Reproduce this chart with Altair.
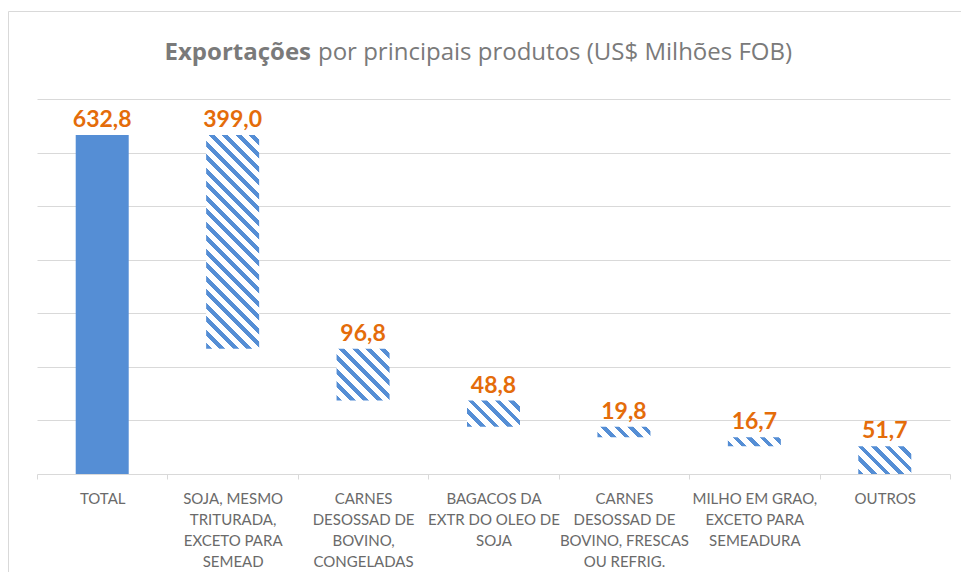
import altair as alt
import pandas as pd

# ---------------- data ----------------
label_lines = [
    ["TOTAL"],
    ["SOJA, MESMO", "TRITURADA,", "EXCETO PARA", "SEMEAD"],
    ["CARNES", "DESOSSAD DE", "BOVINO,", "CONGELADAS"],
    ["BAGACOS DA", "EXTR DO OLEO DE", "SOJA"],
    ["CARNES", "DESOSSAD DE", "BOVINO, FRESCAS", "OU REFRIG."],
    ["MILHO EM GRAO,", "EXCETO PARA", "SEMEADURA"],
    ["OUTROS"],
]
values = [632.8, 399.0, 96.8, 48.8, 19.8, 16.7, 51.7]
grid_values = [100, 200, 300, 400, 500, 600, 700]
title_bold = "Exportações"
title_rest = "por principais produtos (US$ Milhões FOB)"

# ---------------- styling ----------------
W, H, YMAX = 913, 375, 700
BAR_W = 53
BLUE = "#558ED5"
ORANGE = "#E46C0A"
GRID = "#d9d9d9"
LABEL = "#6a6a6a"
TITLE = "#7a7a7a"
FONT = "Lato"
TFONT = "Open Sans"

categories = ["|".join(l) for l in label_lines]
rows = []
level = 0.0
for i, (c, v) in enumerate(zip(categories, values)):
    if i == 0:
        lo, hi = 0.0, v
        level = v
    else:
        hi = level
        lo = max(level - v, 0.0)
        level = lo
    rows.append({"cat": c, "lo": lo, "hi": hi, "value": v,
                 "txt": f"{v:.1f}".replace(".", ","), "idx": i})
df = pd.DataFrame(rows)


def hatch(h, w=BAR_W, period=13.5, frac=0.42):
    """Diagonal '\\' stripes as a hard-stop linear gradient (constant pixel period)."""
    L = w + h
    k = (w + h) / (w * w + h * h)
    n = L / period
    stops = []
    i = 0
    while i / n < 1:
        a, b, c = i / n, (i + frac) / n, (i + 1) / n
        stops.append(alt.GradientStop(color=BLUE, offset=a))
        stops.append(alt.GradientStop(color=BLUE, offset=min(b, 1)))
        if b < 1:
            stops.append(alt.GradientStop(color="white", offset=b))
            stops.append(alt.GradientStop(color="white", offset=min(c, 1)))
        i += 1
    return alt.LinearGradient(gradient="linear", stops=stops,
                              x1=0, y1=1, x2=k * w, y2=1 - k * h)


base = alt.Chart(df).encode(
    x=alt.X("cat:N", sort=categories,
            scale=alt.Scale(paddingInner=0, paddingOuter=0),
            axis=alt.Axis(title=None,
                          labelExpr="isValid(datum.value) ? split(datum.value, '|') : ''",
                          labelAngle=0, labelFont=FONT, labelFontSize=15,
                          labelColor=LABEL, labelLineHeight=21, labelPadding=12,
                          labelBaseline="top", labelOverlap=False, labelLimit=300,
                          tickBand="extent", tickSize=5, tickColor=GRID,
                          domainColor=GRID, grid=False)),
    y=alt.Y("lo:Q", scale=alt.Scale(domain=[0, YMAX], nice=False),
            axis=alt.Axis(title=None, labels=False, ticks=False, domain=False,
                          values=grid_values, gridColor=GRID, gridWidth=1)),
    y2="hi:Q",
)

layers = []
layers.append(base.transform_filter("datum.idx == 0").mark_bar(size=BAR_W, color=BLUE))
for i in range(1, len(values)):
    h = values[i] * H / YMAX
    layers.append(base.transform_filter(f"datum.idx == {i}")
                  .mark_bar(size=BAR_W, color=hatch(h)))

labels = alt.Chart(df).mark_text(
    font=FONT, fontSize=23, fontWeight="bold", color=ORANGE,
    baseline="alphabetic", dy=-8,
).encode(x=alt.X("cat:N", sort=categories), y=alt.Y("hi:Q"), text="txt:N")

one = alt.Data(values=[{}])
t_bold = alt.Chart(one).mark_text(
    font=TFONT, fontSize=24, fontWeight="bold", color=TITLE, align="right",
    baseline="alphabetic").encode(x=alt.value(274), y=alt.value(-39),
                                  text=alt.value(title_bold))
t_rest = alt.Chart(one).mark_text(
    font=TFONT, fontSize=24, color=TITLE, align="left",
    baseline="alphabetic").encode(x=alt.value(281), y=alt.value(-39),
                                  text=alt.value(title_rest))
border = alt.Chart(one).mark_rect(fill=None, stroke=GRID, strokeWidth=1).encode(
    x=alt.value(-28.5), x2=alt.value(960), y=alt.value(-87.5), y2=alt.value(520))

chart = alt.layer(border, *layers, labels, t_bold, t_rest).properties(
    width=W, height=H,
    autosize=alt.AutoSizeParams(type="none"),
    padding={"left": 29, "top": 91, "right": 11, "bottom": 98},
    background="white",
).configure_view(stroke=None)

chart.save("out.html", embed_options={"renderer": "svg", "actions": False})
